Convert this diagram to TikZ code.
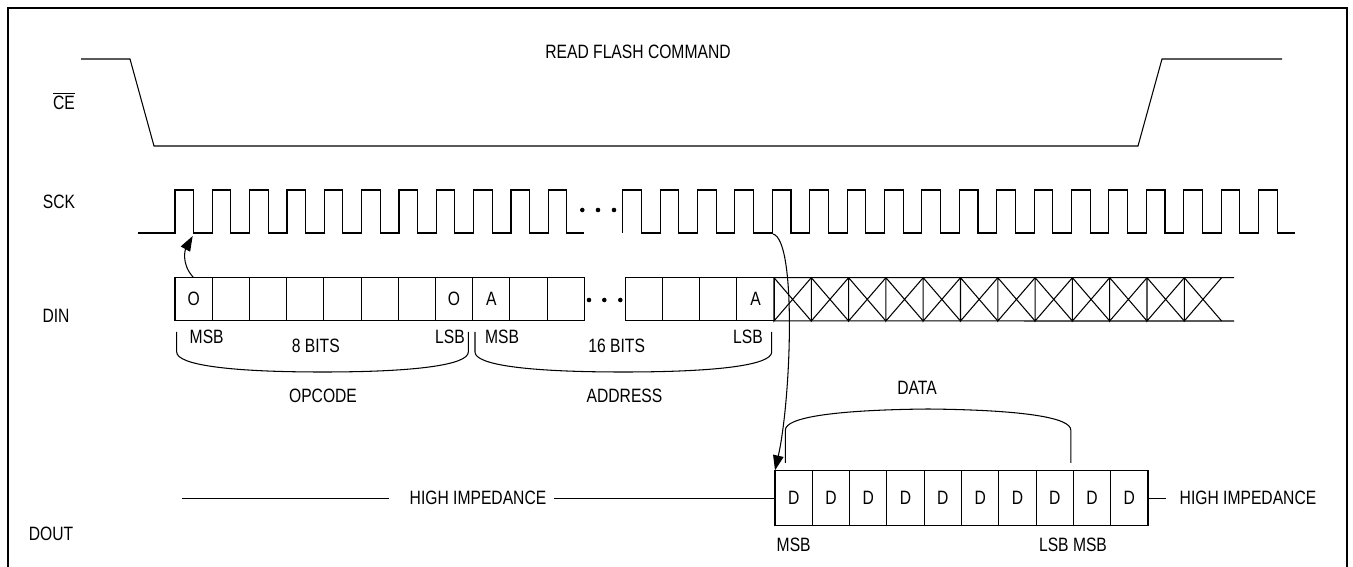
\documentclass[tikz,border=0pt]{standalone}
\usepackage{fontspec}
\setmainfont[FakeStretch=0.81]{Liberation Sans}
\usetikzlibrary{arrows.meta,positioning,calc}

\begin{document}
\begin{tikzpicture}[x=0.02cm, y=-0.02cm, line width=0.6pt,
  font=\fontsize{11}{13}\selectfont, >={Triangle[length=0.3cm, width=0.21cm]},
  bitbox/.style={draw, inner sep=0pt, outer sep=0pt, minimum width=0.744cm, minimum height=0.866cm},
  outbox/.style={bitbox, minimum width=0.746cm, minimum height=1.108cm},
  gaptext/.style={inner sep=0pt}]
\useasboundingbox (0,0) rectangle (1353,567);
\draw[line width=1.3pt] (8,567) -- (8,8) -- (1347,8) -- (1347,567);

\node (title) at (638,52) {READ FLASH COMMAND};
\node (ce) at (64,101) {$\overline{\mbox{CE}}$};
\node (sck) at (59,202) {SCK};
\node (din) at (56,316) {DIN};
\node (dout) at (51,534) {DOUT};

\draw (81,59) -- (130,59) -- (154,146) -- (1138,146) -- (1162,59) -- (1282,59);

\draw (138,233) \foreach \i in {0,...,10} {-- (175+37.33*\i,233) -- ++(0,-43) -- ++(18.4,0) -- ++(0,43)} -- (584,233);
\draw (622.7,233) \foreach \i in {0,...,17} {-- (622.7+37.4*\i,233) -- ++(0,-43) -- ++(18.7,0) -- ++(0,43)} -- (1295,233);
\foreach \x in {582.3,598,614} \fill (\x,210) circle (1.3pt);

\foreach \i/\t in {0/O,1/{},2/{},3/{},4/{},5/{},6/{},7/O,8/A,9/{},10/{}}
  \node[bitbox] (din\i) at (193.6+37.21*\i,299.3) {\t};
\foreach \i/\t in {0/{},1/{},2/{},3/A}
  \node[bitbox] (dinb\i) at (643.9+37.2*\i,299.3) {\t};
\foreach \x in {589,604.3,620.3} \fill (\x,300) circle (1.3pt);
\draw (dinb3.north east) -- (1234,277.7) (dinb3.south east) -- (1234,321);
\foreach \i in {0,...,11}
  \draw (774+37.3*\i,277.7) -- ++(0,43.3) -- ++(37.3,-43.3) (774+37.3*\i,277.7) -- ++(37.3,43.3);

\node (msb1) at (206.7,337) {MSB};
\node (bits8) at (315.8,345.7) {8 BITS};
\node (lsb1) at (450,337) {LSB};
\node (msb2) at (502,337) {MSB};
\node (bits16) at (616.7,345.7) {16 BITS};
\node (lsb2) at (748,337) {LSB};
\draw (176.7,332) -- (176.7,352) .. controls (176.7,365) and (230,372) .. (322.5,372)
  .. controls (415,372) and (468.3,365) .. (468.3,352) -- (468.3,332);
\draw (475,332) -- (475,352) .. controls (475,365) and (528,372) .. (623.3,372)
  .. controls (718,372) and (771.7,365) .. (771.7,352) -- (771.7,332);
\node (opcode) at (323,396) {OPCODE};
\node (address) at (624.5,396) {ADDRESS};

\foreach \i in {1,...,10}
  \node[outbox] (dout\i) at (756.35+37.3*\i,498.1) {D};
\coordinate (hzl) at (182,498.1);
\node[gaptext] (hz1) at (478,498.1) {HIGH IMPEDANCE};
\draw (hzl) -- ([xshift=-0.4cm]hz1.west);
\draw ([xshift=0.14cm]hz1.east) -- (dout1.west);
\node[gaptext] (hz2) at (1248,498.1) {HIGH IMPEDANCE};
\draw (dout10.east) -- ([xshift=-0.27cm]hz2.west);
\node (msb3) at (793.7,544.6) {MSB};
\node (lsbmsb) at (1073,544.6) {LSB MSB};

\draw (785.4,463) -- (785.4,430) .. controls (785.4,418) and (830,410) .. (928,409)
  .. controls (1026,410) and (1070.8,418) .. (1070.8,430) -- (1070.8,463);
\node (data) at (917,388) {DATA};

\coordinate (clk1) at (192.7,236);
\coordinate (clk2) at (773,234);
\draw[->] (din0.north) .. controls (180,263) and (186,248) .. (clk1);
\draw[->] (clk2) .. controls (797,240) and (791,400) .. (dout1.north west);
\end{tikzpicture}
\end{document}
